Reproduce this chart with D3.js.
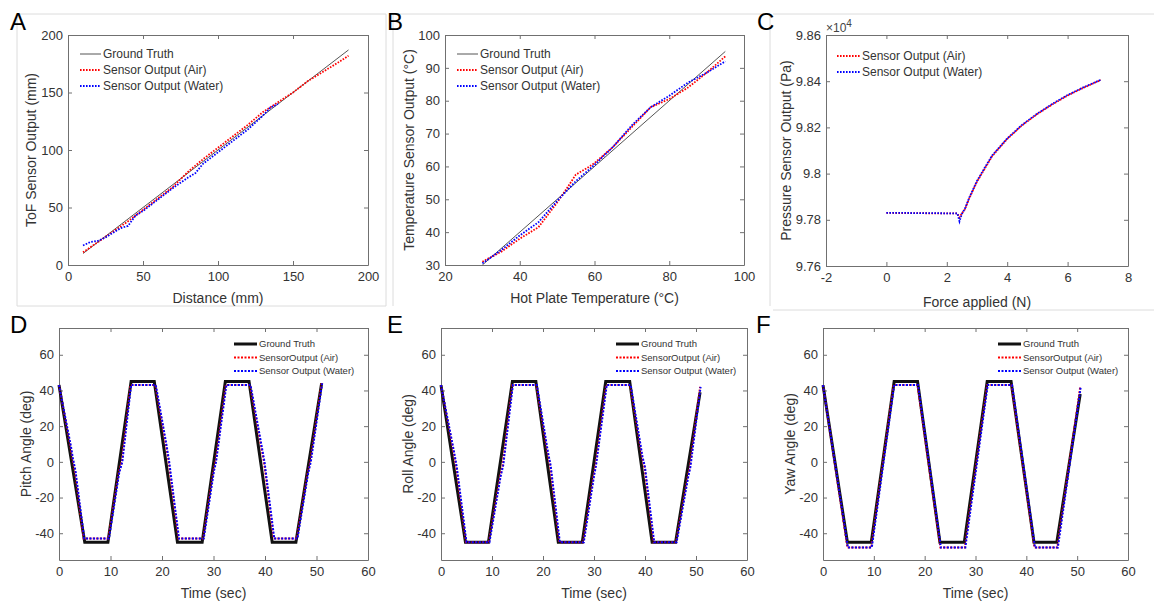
<!DOCTYPE html>
<html>
<head>
<meta charset="utf-8">
<script src="https://cdn.jsdelivr.net/npm/d3@7.9.0/dist/d3.min.js"></script>
<style>
  body { margin: 0; background: #fff; }
  svg { font-family: "Liberation Sans", Arial, sans-serif; }
  .axis path, .axis line { stroke: #707070; }
  .axis text { fill: #333; font-size: 13px; }
</style>
</head>
<body>
<svg id="fig" width="1154" height="601"></svg>
<script>
// ---- data ----
// A: ToF sensor, [distance mm, output mm]
const tofTruth = [[10, 10], [187, 187]];
const tofAir = [[10, 11], [20, 20], [30, 29], [40, 38], [50, 48], [60, 58], [70, 68], [80, 81], [90, 92],
  [100, 102], [110, 112], [120, 122], [130, 133], [137, 139], [150, 150], [160, 160], [170, 168], [180, 176], [187, 182]];
const tofWater = [[10, 17], [15, 20], [20, 21], [25, 24], [30, 28], [35, 32], [40, 34], [45, 43], [50, 47],
  [60, 57], [70, 67], [80, 76], [85, 80], [90, 88], [100, 98], [110, 108], [120, 118], [130, 130], [135, 137], [140, 140]];

// B: temperature sensor, [plate degC, output degC]
const tempTruth = [[30, 30], [95, 95]];
const tempAir = [[30, 31], [35, 34], [40, 38], [45, 41.5], [50, 49], [53, 54], [55, 57.5], [58, 59.5], [60, 61],
  [65, 66], [70, 72], [75, 78], [80, 80.5], [85, 84], [90, 88.5], [95, 93.5]];
const tempWater = [[30, 30.5], [35, 34.5], [40, 39], [45, 43], [50, 49.5], [55, 55.5], [60, 60.5], [65, 66],
  [70, 72.5], [75, 78], [80, 81.5], [85, 85.5], [90, 88.5], [95, 92]];

// C: pressure sensor, [force N, output x1e4 Pa]
const presAir = [[0, 9.7830], [0.5, 9.7829], [1, 9.7829], [1.5, 9.7828], [2, 9.7828], [2.35, 9.7828], [2.42, 9.7810],
  [2.5, 9.7828], [2.6, 9.7845], [2.75, 9.7895], [3, 9.7965], [3.25, 9.8020], [3.5, 9.8075], [4, 9.8150], [4.5, 9.8210],
  [5, 9.8258], [5.5, 9.8300], [6, 9.8338], [6.5, 9.8370], [7.1, 9.8405]];
const presWater = [[0, 9.7830], [0.5, 9.7830], [1, 9.7829], [1.5, 9.7829], [2, 9.7828], [2.35, 9.7828], [2.42, 9.7793],
  [2.5, 9.7826], [2.6, 9.7848], [2.75, 9.7898], [3, 9.7968], [3.25, 9.8024], [3.5, 9.8078], [4, 9.8152], [4.5, 9.8212],
  [5, 9.8260], [5.5, 9.8302], [6, 9.8340], [6.5, 9.8372], [7.1, 9.8406]];

// D-F: IMU angles, [time s, angle deg]
const pitchTruth = [[0, 43], [5, -45], [9.5, -45], [14, 45], [18.5, 45], [23, -45], [27.8, -45], [32.3, 45],
  [36.9, 45], [41.4, -45], [46, -45], [51, 44]];
const pitchAir = [[0, 43], [2.2, 9], [2.6, 2], [3.1, -5], [4.8, -43], [9.6, -43], [11.6, -6], [12.2, 0], [13.9, 43],
  [18.7, 43], [20.8, 9], [21.3, 0], [23.2, -43], [28, -43], [30, -5], [30.4, 0], [32.4, 43], [37.1, 43], [39.3, 8],
  [39.8, 0], [41.7, -43], [46.2, -43], [48.3, -6], [48.8, 0], [51, 44]];
const pitchWater = [[0, 43], [2.3, 9], [2.7, 2], [3.2, -5], [4.9, -43], [9.7, -43], [11.7, -6], [12.3, 0], [14, 43],
  [18.8, 43], [20.9, 9], [21.4, 0], [23.3, -43], [28.1, -43], [30.1, -5], [30.5, 0], [32.5, 43], [37.2, 43], [39.4, 8],
  [39.9, 0], [41.8, -43], [46.3, -43], [48.4, -6], [48.9, 0], [51.1, 44]];

const rollTruth = [[0, 43], [4.8, -45], [9.3, -45], [14, 45], [18.6, 45], [23, -45], [27.7, -45], [32.3, 45],
  [37, 45], [41.4, -45], [46, -45], [50.8, 39]];
const rollAir = [[0, 43], [2.5, 5], [3, -3], [4.9, -45], [9.4, -45], [11.6, -8], [12.1, -2], [14, 43], [18.7, 43],
  [20.9, 5], [21.4, -2], [23.2, -45], [27.9, -45], [29.9, -8], [30.3, -2], [32.4, 43], [37.1, 43], [39.4, 3],
  [39.9, -3], [41.7, -45], [46.1, -45], [48.4, -8], [48.8, -3], [50.8, 42]];
const rollWater = [[0, 43], [2.6, 5], [3.1, -3], [5, -45], [9.5, -45], [11.7, -8], [12.2, -2], [14.1, 43], [18.8, 43],
  [21, 5], [21.5, -2], [23.3, -45], [28, -45], [30, -8], [30.4, -2], [32.5, 43], [37.2, 43], [39.5, 3],
  [40, -3], [41.8, -45], [46.2, -45], [48.5, -8], [48.9, -3], [50.9, 42]];

const yawTruth = [[0, 43], [4.8, -45], [9.5, -45], [14, 45], [18.6, 45], [23, -45], [27.8, -45], [32.3, 45],
  [37, 45], [41.5, -45], [46, -45], [50.6, 38]];
const yawAir = [[0, 43], [4.8, -48], [9.5, -48], [13.9, 43], [18.6, 43], [23.1, -48], [27.9, -48], [32.3, 43],
  [37.1, 43], [41.6, -48], [46.1, -48], [50.6, 42]];
const yawWater = [[0, 43], [4.9, -48], [9.6, -48], [14, 43], [18.7, 43], [23.2, -48], [28, -48], [32.4, 43],
  [37.2, 43], [41.7, -48], [46.2, -48], [50.7, 42]];

const xTicksTime = [0, 10, 20, 30, 40, 50, 60];
const yTicksAngle = [-40, -20, 0, 20, 40, 60];

const svg = d3.select('#fig');

// light frames around the top row sub-images
svg.append('g').attr('fill', 'none').attr('stroke', '#dcdcdc')
  .selectAll('path')
  .data(['M17,306V14H386V306Z', 'M393,306V14H770V306', 'M773,14H1154M773,310H1154'])
  .join('path').attr('d', d => d);

// plain hyphen minus, like the original figure
const plain = d => String(+d.toFixed(2));

function panel(o) {
  const g = svg.append('g');
  const x = d3.scaleLinear().domain(o.xd).range([o.l, o.r]);
  const y = d3.scaleLinear().domain(o.yd).range([o.b, o.t]);

  g.append('rect').attr('x', o.l).attr('y', o.t).attr('width', o.r - o.l).attr('height', o.b - o.t)
    .attr('fill', '#fff');

  g.append('g').attr('class', 'axis').attr('transform', `translate(0,${o.b})`)
    .call(d3.axisBottom(x).tickValues(o.xt).tickSizeInner(-4).tickSizeOuter(0).tickPadding(7).tickFormat(plain));
  g.append('g').attr('class', 'axis').attr('transform', `translate(0,${o.t})`)
    .call(d3.axisTop(x).tickValues(o.xt).tickSizeInner(-4).tickSizeOuter(0).tickFormat(''));
  g.append('g').attr('class', 'axis').attr('transform', `translate(${o.l},0)`)
    .call(d3.axisLeft(y).tickValues(o.yt).tickSizeInner(-4).tickSizeOuter(0).tickPadding(5).tickFormat(plain));
  g.append('g').attr('class', 'axis').attr('transform', `translate(${o.r},0)`)
    .call(d3.axisRight(y).tickValues(o.yt).tickSizeInner(-4).tickSizeOuter(0).tickFormat(''));

  const line = d3.line().x(d => x(d[0])).y(d => y(d[1]));
  o.series.forEach(s => {
    g.append('path').datum(s.data).attr('d', line).attr('fill', 'none')
      .attr('stroke', s.color).attr('stroke-width', s.w)
      .attr('stroke-dasharray', s.dash || null);
  });

  // legend
  const lg = g.append('g').attr('font-size', o.lfs + 'px').attr('fill', '#333');
  o.series.forEach((s, i) => {
    const yy = o.ly + i * o.lstep;
    lg.append('line').attr('x1', o.lx).attr('x2', o.lx + o.lw).attr('y1', yy).attr('y2', yy)
      .attr('stroke', s.color).attr('stroke-width', s.w).attr('stroke-dasharray', s.dash || null);
    lg.append('text').attr('x', o.lx + o.lw + 2).attr('y', yy).attr('dy', '0.35em').text(s.name);
  });

  // axis labels
  g.append('text').attr('x', (o.l + o.r) / 2).attr('y', o.xly).attr('text-anchor', 'middle')
    .attr('font-size', '14px').attr('fill', '#333').text(o.xl);
  g.append('text').attr('transform', `translate(${o.ylx},${(o.t + o.b) / 2}) rotate(-90)`)
    .attr('text-anchor', 'middle').attr('dy', '0.35em')
    .attr('font-size', '14px').attr('fill', '#333').text(o.yl);

  // panel letter
  svg.append('text').attr('x', o.px).attr('y', o.py).attr('font-size', '24px').attr('fill', '#000').text(o.letter);
  return { g, x, y };
}

const thinTruth = { color: '#555', w: 1 };
const redDot = { color: '#ff0000', w: 1.8, dash: '1.6,1.4' };
const blueDot = { color: '#0000ff', w: 1.8, dash: '1.6,1.4' };
const thickTruth = { color: '#111', w: 3 };
const redDot2 = { color: '#ff0000', w: 2, dash: '2,1.5' };
const blueDot2 = { color: '#0000ff', w: 2, dash: '2,1.5' };

panel({
  letter: 'A', px: 10, py: 30,
  l: 68, r: 368, t: 35, b: 265,
  xd: [0, 200], yd: [0, 200], xt: [0, 50, 100, 150, 200], yt: [0, 50, 100, 150, 200],
  xl: 'Distance (mm)', xly: 303, yl: 'ToF Sensor Output (mm)', ylx: 31,
  lx: 80, lw: 21, ly: 54, lstep: 16, lfs: 12,
  series: [
    { ...thinTruth, data: tofTruth, name: 'Ground Truth' },
    { ...redDot, data: tofAir, name: 'Sensor Output (Air)' },
    { ...blueDot, data: tofWater, name: 'Sensor Output (Water)' }
  ]
});

panel({
  letter: 'B', px: 387, py: 30,
  l: 445, r: 744, t: 35, b: 265,
  xd: [20, 100], yd: [30, 100], xt: [20, 40, 60, 80, 100], yt: [30, 40, 50, 60, 70, 80, 90, 100],
  xl: 'Hot Plate Temperature (°C)', xly: 303, yl: 'Temperature Sensor Output (°C)', ylx: 409,
  lx: 457, lw: 21, ly: 54, lstep: 16, lfs: 12,
  series: [
    { ...thinTruth, data: tempTruth, name: 'Ground Truth' },
    { ...redDot, data: tempAir, name: 'Sensor Output (Air)' },
    { ...blueDot, data: tempWater, name: 'Sensor Output (Water)' }
  ]
});

const pc = panel({
  letter: 'C', px: 757, py: 30,
  l: 826, r: 1128, t: 35, b: 266,
  xd: [-2, 8], yd: [9.76, 9.86], xt: [-2, 0, 2, 4, 6, 8], yt: [9.76, 9.78, 9.8, 9.82, 9.84, 9.86],
  xl: 'Force applied (N)', xly: 307, yl: 'Pressure Sensor Output (Pa)', ylx: 786,
  lx: 837, lw: 23, ly: 56, lstep: 16, lfs: 12,
  series: [
    { ...redDot, data: presAir, name: 'Sensor Output (Air)' },
    { ...blueDot, data: presWater, name: 'Sensor Output (Water)' }
  ]
});
pc.g.append('text').attr('x', 826).attr('y', 32).attr('font-size', '12px').attr('fill', '#444')
  .text('×10').append('tspan').attr('dy', -5).attr('font-size', '10px').text('4');

const angleLegend = { lw: 23, ly: 344, lstep: 13.5, lfs: 9.5 };

panel({
  letter: 'D', px: 10, py: 333,
  l: 59, r: 368, t: 328, b: 560,
  xd: [0, 60], yd: [-55, 75], xt: xTicksTime, yt: yTicksAngle,
  xl: 'Time (sec)', xly: 598, yl: 'Pitch Angle (deg)', ylx: 26,
  lx: 234, ...angleLegend,
  series: [
    { ...thickTruth, data: pitchTruth, name: 'Ground Truth' },
    { ...redDot2, data: pitchAir, name: 'SensorOutput (Air)' },
    { ...blueDot2, data: pitchWater, name: 'Sensor Output (Water)' }
  ]
});

panel({
  letter: 'E', px: 387, py: 333,
  l: 441, r: 747, t: 328, b: 560,
  xd: [0, 60], yd: [-55, 75], xt: xTicksTime, yt: yTicksAngle,
  xl: 'Time (sec)', xly: 598, yl: 'Roll Angle (deg)', ylx: 408,
  lx: 616, ...angleLegend,
  series: [
    { ...thickTruth, data: rollTruth, name: 'Ground Truth' },
    { ...redDot2, data: rollAir, name: 'SensorOutput (Air)' },
    { ...blueDot2, data: rollWater, name: 'Sensor Output (Water)' }
  ]
});

panel({
  letter: 'F', px: 756, py: 333,
  l: 823, r: 1128, t: 328, b: 560,
  xd: [0, 60], yd: [-55, 75], xt: xTicksTime, yt: yTicksAngle,
  xl: 'Time (sec)', xly: 598, yl: 'Yaw Angle (deg)', ylx: 790,
  lx: 998, ...angleLegend,
  series: [
    { ...thickTruth, data: yawTruth, name: 'Ground Truth' },
    { ...redDot2, data: yawAir, name: 'SensorOutput (Air)' },
    { ...blueDot2, data: yawWater, name: 'Sensor Output (Water)' }
  ]
});
</script>
</body>
</html>
